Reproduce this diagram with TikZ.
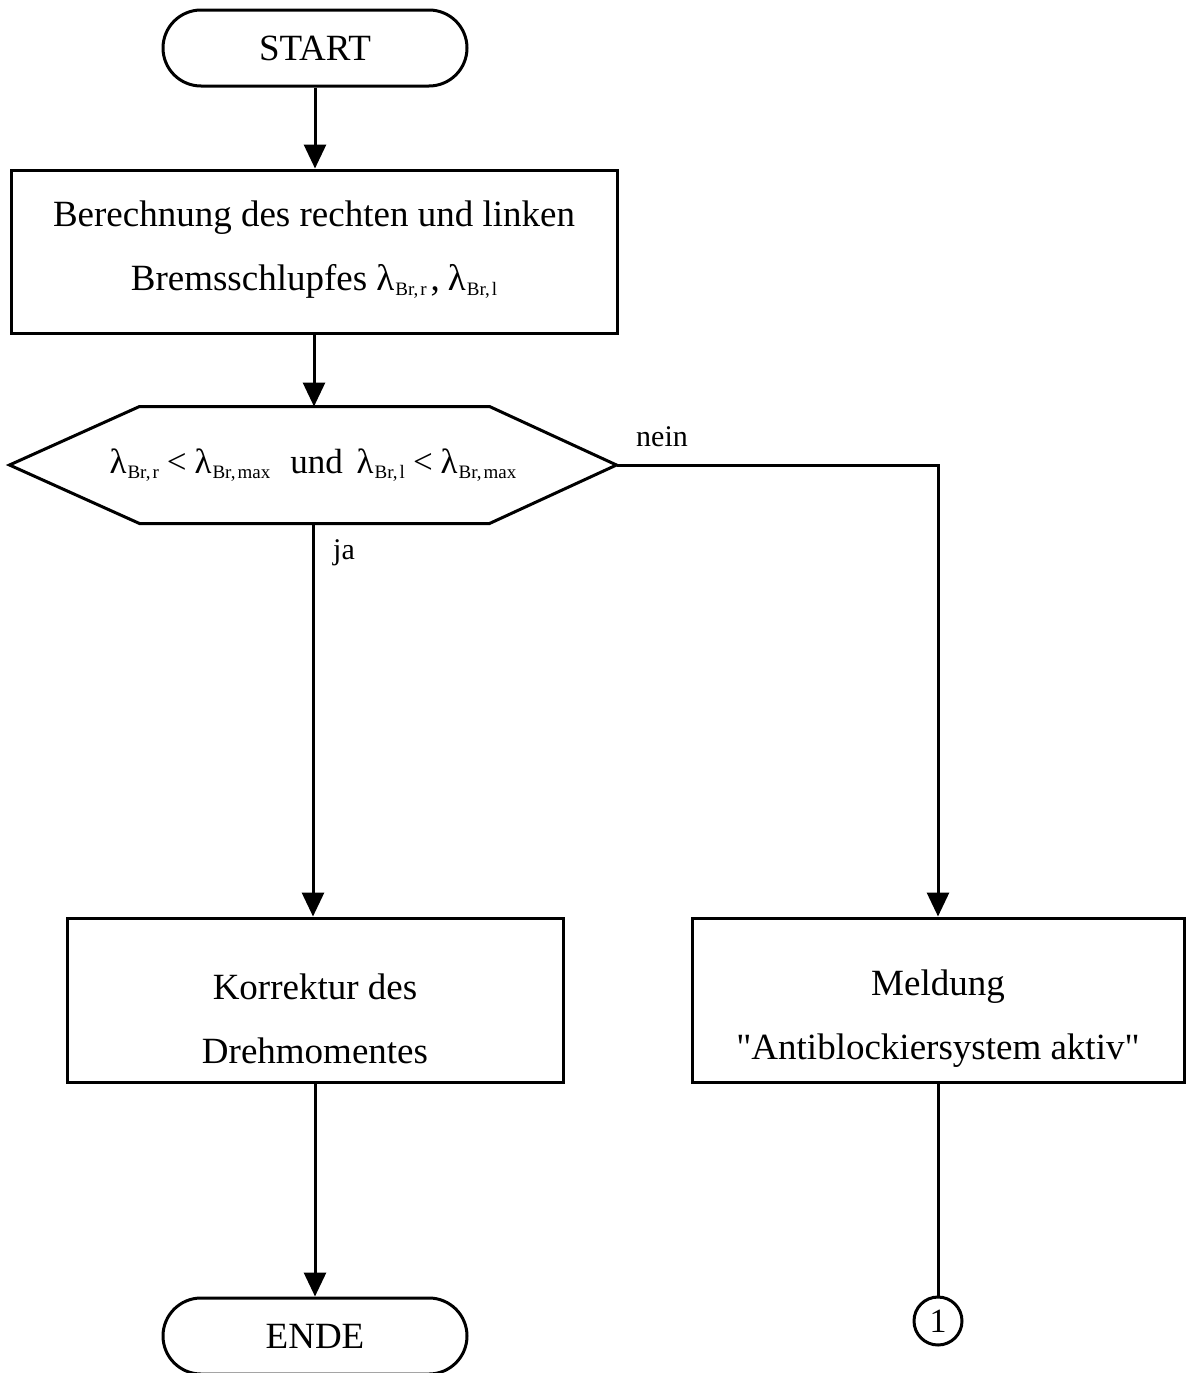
\documentclass[tikz,border=0pt]{standalone}
\usepackage{fontspec}
\setmainfont{Liberation Serif}
\usetikzlibrary{arrows.meta}
\newcommand{\lamsub}[2]{λ\kern1pt{\fontsize{19}{19}\selectfont\raisebox{-5pt}{Br,\kern2pt#1}}}
\begin{document}
\begin{tikzpicture}[x=1pt,y=-1pt, line width=3pt,
  every node/.style={font=\fontsize{37}{64}\selectfont},
  term/.style={draw, rounded corners=38pt, minimum width=304pt, minimum height=76pt, inner sep=0pt},
  proc/.style={draw, inner sep=0pt},
  txt/.style={align=center, inner sep=0pt},
  conn/.style={draw, circle, minimum size=48pt, inner sep=0pt, font=\fontsize{34}{34}\selectfont},
  lbl/.style={inner sep=0pt, font=\fontsize{30}{30}\selectfont},
  arr/.style={-{Triangle[width=22pt,length=24pt]}},
]
\path[use as bounding box] (0,0) rectangle (1186,1373);

\node[term] (start) at (315,48) {START};
\node[proc, minimum width=606pt, minimum height=163pt] (calc) at (314,251.5) {};
\node[txt] (calctxt) at ([yshift=2pt]calc.center)
  {Berechnung des rechten und linken\\Bremsschlupfes \lamsub{r}{}\kern4pt,\kern8pt\lamsub{l}{}};
\node[minimum width=604pt, minimum height=114pt, inner sep=0pt, font=\fontsize{35}{35}\selectfont] (dec) at (313,465)
  {\lamsub{r}{}\kern8pt<\kern8pt\lamsub{max}{}\kern20pt und\kern14pt\lamsub{l}{}\kern8pt<\kern8pt\lamsub{max}{}};
\draw (dec.west) -- ([xshift=130pt]dec.north west) -- ([xshift=-127pt]dec.north east)
  -- (dec.east) -- ([xshift=-127pt]dec.south east) -- ([xshift=130pt]dec.south west) -- cycle;
\node[proc, minimum width=496pt, minimum height=164pt] (korr) at (315,1000) {};
\node[txt] (korrtxt) at ([yshift=-19pt]korr.center) {Korrektur des\\Drehmomentes};
\node[proc, minimum width=492pt, minimum height=164pt] (meld) at (938,1000) {};
\node[txt] (meldtxt) at ([yshift=-19pt]meld.center) {Meldung\\\textquotedbl Antiblockiersystem aktiv\textquotedbl};
\node[term] (ende) at (315,1336) {ENDE};
\node[conn] (c1) at (938,1321) {1};

\node[lbl] (nein) at (662,437) {nein};
\node[lbl] (ja) at (344,553) {ja};

\draw[arr] (start) -- (start |- calc.north);
\draw[arr] (calc.south) -- (calc.south |- dec.north);
\draw[arr] (dec.east) -| (meld.north);
\draw[arr] (dec.south) -- (dec.south |- korr.north);
\draw[arr] (korr) -- (ende);
\draw (meld) -- (c1);
\end{tikzpicture}
\end{document}
